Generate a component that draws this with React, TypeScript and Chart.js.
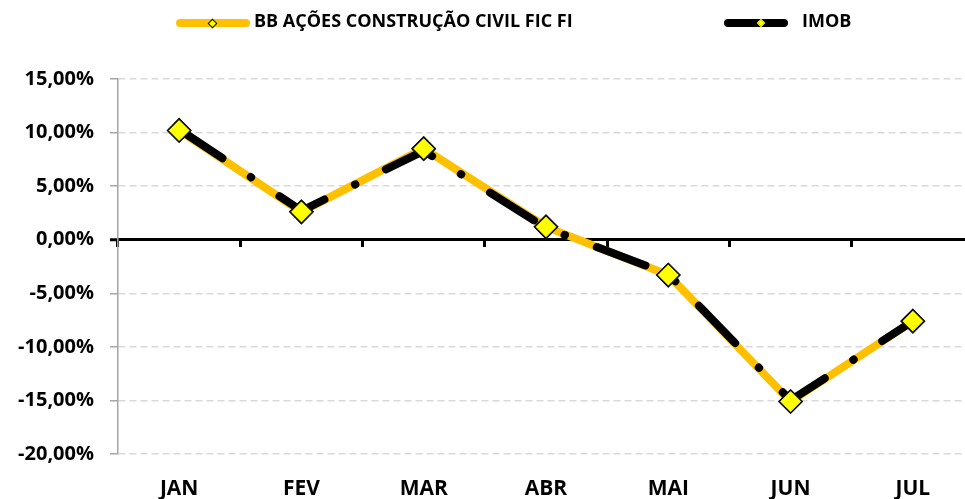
import React, { useEffect, useRef } from "react";
import { Chart, registerables } from "chart.js";

Chart.register(...registerables);

const months = ["JAN", "FEV", "MAR", "ABR", "MAI", "JUN", "JUL"];
const bbValues = [10.2, 2.6, 8.5, 1.2, -3.3, -15.1, -7.6];
const imobValues = [10.3, 2.7, 8.3, 1.1, -3.2, -15.0, -7.6];
const yTickValues = [15, 10, 5, 0, -5, -10, -15, -20];
const seriesNames = ["BB AÇÕES CONSTRUÇÃO CIVIL FIC FI", "IMOB"];

const FONT = "'Open Sans', 'DejaVu Sans', sans-serif";
const ORANGE = "#FFC000";
const YELLOW = "#FFFF00";

const pointsOnTop = {
  id: "pointsOnTop",
  afterDatasetsDraw(chart: any) {
    const meta = chart.getDatasetMeta(0);
    meta.data.forEach((el: any) => el.draw(chart.ctx, chart.chartArea));
  },
};

function fmt(v: number) {
  return v.toFixed(2).replace(".", ",") + "%";
}

export default function App() {
  const canvasRef = useRef<HTMLCanvasElement | null>(null);

  useEffect(() => {
    if (!canvasRef.current) return;
    const chart = new Chart(canvasRef.current, {
      type: "line",
      data: {
        labels: months,
        datasets: [
          {
            label: seriesNames[0],
            data: bbValues,
            order: 1,
            borderColor: ORANGE,
            borderWidth: 8,
            borderCapStyle: "round",
            borderJoinStyle: "round",
            tension: 0,
            fill: false,
            pointStyle: "rectRot",
            pointRadius: 11.5,
            pointBackgroundColor: YELLOW,
            pointBorderColor: "#111",
            pointBorderWidth: 1.5,
            xAxisID: "x",
            yAxisID: "y",
          },
          {
            label: seriesNames[1],
            data: imobValues,
            order: 0,
            borderColor: "#000",
            borderWidth: 8,
            borderDash: [52, 34, 0.5, 34],
            borderCapStyle: "round",
            borderJoinStyle: "round",
            tension: 0,
            fill: false,
            pointRadius: 0,
            xAxisID: "x",
            yAxisID: "y",
          },
        ],
      },
      options: {
        animation: false,
        responsive: true,
        maintainAspectRatio: false,
        layout: { padding: { top: 79, right: 6, left: 0, bottom: 0 } },
        plugins: {
          legend: { display: false },
          tooltip: { enabled: false },
        },
        scales: {
          x: {
            type: "category",
            position: "bottom",
            offset: true,
            grid: { display: false },
            border: { display: false },
            ticks: {
              color: "#000",
              font: { family: FONT, size: 21, weight: "bold" },
              padding: 14,
              maxRotation: 0,
              autoSkip: false,
            },
            afterFit: (s: any) => {
              s.height = 45;
            },
          },
          x2: {
            type: "category",
            position: { y: 0 },
            offset: true,
            grid: {
              drawOnChartArea: false,
              drawTicks: true,
              tickLength: 6,
              tickWidth: 3,
              tickColor: "#000",
              offset: true,
            },
            border: { display: true, color: "#000", width: 3 },
            ticks: { display: false },
          },
          y: {
            type: "linear",
            position: "left",
            min: -20,
            max: 15,
            afterBuildTicks: (s: any) => {
              s.ticks = yTickValues.map((v) => ({ value: v }));
            },
            ticks: {
              color: "#000",
              font: { family: FONT, size: 20, weight: "bold" },
              padding: 16,
              callback: (v: any) => fmt(Number(v)),
            },
            grid: {
              color: (c: any) =>
                c.tick && c.tick.value === 0 ? "rgba(0,0,0,0)" : "#d9d9d9",
              lineWidth: 1.5,
              tickLength: 8,
              tickColor: (c: any) =>
                c.tick && c.tick.value === 0 ? "#000" : "#a6a6a6",
              tickWidth: (c: any) => (c.tick && c.tick.value === 0 ? 3 : 1.5),
              tickBorderDash: [],
            },
            border: { display: true, color: "#a6a6a6", width: 1.5, dash: [7, 4] },
            afterFit: (s: any) => {
              s.width = 118;
            },
          },
        },
      } as any,
      plugins: [pointsOnTop],
    });
    return () => chart.destroy();
  }, []);

  const textStyle: React.CSSProperties = {
    position: "absolute",
    top: 11,
    fontFamily: FONT,
    fontWeight: 700,
    fontSize: 18,
    lineHeight: "18px",
    color: "#000",
    whiteSpace: "nowrap",
  };

  return (
    <div
      style={{
        position: "fixed",
        left: 0,
        top: 0,
        width: 965,
        height: 499,
        overflow: "hidden",
        background: "#fff",
      }}
    >
      <div style={{ position: "absolute", left: 0, top: 0, width: 987, height: 499 }}>
        <canvas ref={canvasRef} />
      </div>
      {/* legend */}
      <div
        style={{
          position: "absolute",
          left: 176,
          top: 19,
          width: 74,
          height: 8,
          borderRadius: 4,
          background: ORANGE,
        }}
      />
      <div
        style={{
          position: "absolute",
          left: 208.5,
          top: 19.5,
          width: 7,
          height: 7,
          boxSizing: "border-box",
          border: "1.5px solid #000",
          background: YELLOW,
          transform: "rotate(45deg)",
        }}
      />
      <div style={{ ...textStyle, left: 254 }}>{seriesNames[0]}</div>
      <div
        style={{
          position: "absolute",
          left: 724,
          top: 19,
          width: 64,
          height: 8,
          borderRadius: 4,
          background: "#000",
        }}
      />
      <div
        style={{
          position: "absolute",
          left: 758,
          top: 20,
          width: 6,
          height: 6,
          boxSizing: "border-box",
          border: "1px solid #d4d400",
          background: YELLOW,
          transform: "rotate(45deg)",
        }}
      />
      <div style={{ ...textStyle, left: 802 }}>{seriesNames[1]}</div>
    </div>
  );
}
